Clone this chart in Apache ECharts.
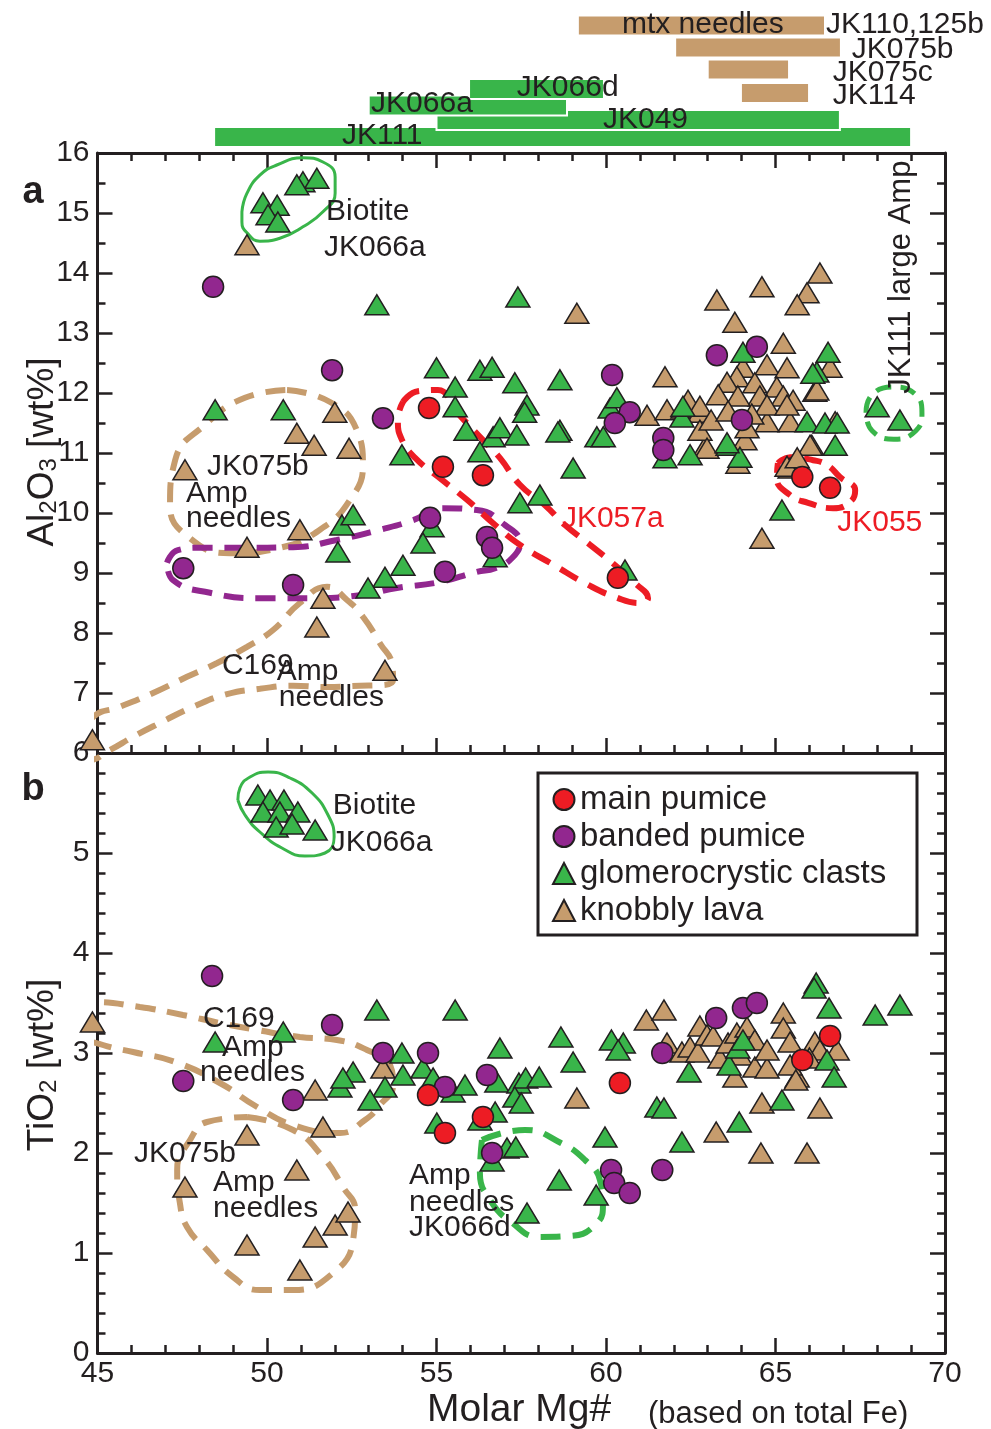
<!DOCTYPE html>
<html>
<head>
<meta charset="utf-8" />
<title>Al2O3 and TiO2 vs Molar Mg#</title>
<script src="https://cdn.jsdelivr.net/npm/echarts/dist/echarts.min.js"></script>
<style>
html, body { margin: 0; padding: 0; background: #fff; }
#main { width: 991px; height: 1429px; }
</style>
</head>
<body>
<div id="main"></div>
<script>
var FONT = '"Liberation Sans", Arial, Helvetica, sans-serif';
var INK = '#231f20';
var RED = '#ed1c24', PURPLE = '#92278f', GREEN = '#39b54a', TAN = '#c69c6d';

// ---- Mg# ranges of the samples (bars above the plot): [from, to, row]
var tanRanges = [[59.17, 66.46, 2.55], [62.04, 66.93, 4.75], [63.0, 65.4, 6.95], [63.98, 65.99, 9.3]];
var greenRanges = [[48.44, 69.0, 13.7], [55.0, 66.9, 12.0], [53.0, 58.85, 10.55], [55.96, 59.94, 8.9]];
var rangeLabels = [
  [60.47, 2.5, 'mtx needles'], [66.49, 2.5, 'JK110,125b'], [67.25, 4.95, 'JK075b'],
  [66.69, 7.3, 'JK075c'], [66.69, 9.6, 'JK114'], [57.37, 8.8, 'JK066d'],
  [53.07, 10.4, 'JK066a'], [59.91, 12.0, 'JK049'], [52.21, 13.6, 'JK111']
];

// ---- (a) Al2O3 wt% vs Mg#
var mainPumiceAl = [[54.78,11.75],[55.19,10.77],[56.37,10.63],[60.35,8.92],[65.79,10.6],[66.61,10.42]];
var bandedPumiceAl = [[48.41,13.77],[51.92,12.38],[53.42,11.58],[47.53,9.08],[50.77,8.8],[54.81,9.92],[55.25,9.02],
  [56.49,9.6],[56.64,9.42],[60.18,12.3],[60.7,11.68],[60.26,11.5],[61.69,11.25],[61.69,11.05],[63.27,12.63],
  [64.45,12.77],[64.01,11.55]];
var glomeroAl = [[49.88,15.17],[50.3,15.13],[50.03,14.97],[50.32,14.85],[51.06,15.52],[51.47,15.58],[50.88,15.47],
  [53.24,13.47],[57.4,13.6],[48.47,11.72],[50.48,11.72],[53.98,10.97],[55.0,12.42],[55.55,12.1],[56.28,12.38],
  [56.64,12.43],[55.55,11.77],[55.87,11.38],[56.67,11.27],[56.87,11.42],[57.31,12.17],[57.37,11.3],[57.67,11.8],
  [57.6,11.68],[56.28,11.02],[58.64,12.22],[58.64,11.38],[59.73,11.27],[60.12,11.75],[60.32,11.92],[59.03,10.75],
  [57.46,10.17],[58.05,10.3],[61.74,10.92],[62.48,10.97],[62.24,11.6],[62.27,11.78],[54.87,9.77],[54.6,9.5],
  [56.73,9.27],[54.01,9.13],[53.48,8.93],[52.98,8.75],[60.56,9.05],[52.21,9.8],[52.54,9.97],[52.09,9.35],
  [65.19,10.05],[66.76,11.13],[63.6,11.13],[63.95,10.93],[63.57,11.17],[64.04,12.68],[66.55,12.68],[66.22,12.35],
  [66.1,12.33],[65.93,11.52],[66.46,11.5],[66.82,11.5],[68.0,11.77],[68.67,11.55],[59.92,11.27],[58.58,11.35]];
var knobblyAl = [[49.41,14.47],[47.58,10.72],[52.0,11.68],[50.88,11.33],[51.39,11.13],[52.42,11.08],[50.97,9.72],
  [49.41,9.43],[51.65,8.58],[51.47,8.1],[53.48,7.38],[44.85,6.22],[59.14,13.33],[61.74,12.27],[61.21,11.63],
  [61.8,11.72],[62.27,11.75],[62.48,11.77],[62.77,11.68],[63.27,13.55],[64.6,13.77],[66.31,14.0],[65.93,13.67],
  [65.64,13.47],[63.8,13.18],[65.23,12.83],[64.04,12.43],[64.75,12.47],[65.34,12.42],[66.61,12.43],[63.86,12.27],
  [63.57,12.18],[64.39,12.17],[65.04,12.1],[64.54,11.95],[65.23,11.95],[65.52,11.88],[66.16,12.03],[66.22,12.05],
  [64.75,11.52],[65.43,11.52],[66.76,11.52],[62.92,11.1],[64.1,11.22],[66.07,11.13],[63.31,11.97],[63.89,11.95],
  [62.42,11.88],[62.77,11.78],[64.75,11.8],[65.34,11.8],[62.77,11.38],[64.16,11.42],[62.98,11.08],[63.89,10.83],
  [65.43,10.75],[65.64,10.88],[66.02,11.13],[64.6,9.58],[65.34,10.78],[65.64,10.92],[63.1,11.55],[63.6,11.7],
  [64.3,11.65]];

// ---- (b) TiO2 wt% vs Mg#
var mainPumiceTi = [[54.75,2.58],[55.25,2.2],[56.37,2.36],[60.41,2.7],[65.79,2.93],[66.61,3.17]];
var bandedPumiceTi = [[48.38,3.77],[47.53,2.72],[51.92,3.28],[50.77,2.53],[53.42,3.0],[54.75,3.0],[55.25,2.66],
  [56.49,2.78],[56.64,2.0],[60.15,1.83],[60.24,1.7],[60.7,1.6],[61.66,1.83],[61.66,3.0],[63.25,3.35],[64.04,3.45],
  [64.45,3.5]];
var glomeroTi = [[49.73,5.58],[50.09,5.53],[50.5,5.53],[49.88,5.41],[50.38,5.41],[50.91,5.41],[50.27,5.26],
  [50.74,5.29],[51.42,5.23],[48.47,3.11],[50.48,3.21],[52.15,2.66],[52.54,2.81],[52.24,2.75],[53.24,3.43],
  [53.98,3.0],[53.48,2.66],[53.04,2.53],[54.01,2.78],[54.6,2.85],[54.9,2.75],[55.55,3.43],[55.49,2.61],[55.84,2.68],
  [56.87,3.05],[55.01,2.3],[56.28,2.33],[56.78,2.71],[56.73,2.41],[56.64,1.92],[57.08,2.05],[57.43,2.7],
  [57.63,2.75],[58.03,2.76],[57.31,2.56],[57.5,2.5],[58.67,3.16],[59.03,2.91],[60.16,3.13],[60.51,3.1],
  [60.36,3.03],[57.34,2.06],[58.62,1.73],[59.71,1.58],[57.67,1.4],[59.97,2.16],[61.5,2.46],[61.71,2.45],
  [62.24,2.11],[63.93,2.31],[65.19,2.53],[67.94,3.38],[68.67,3.48],[66.2,3.7],[66.14,3.65],[66.58,3.45],
  [66.52,2.93],[66.73,2.76],[62.45,2.81],[63.63,2.88],[63.89,3.05],[64.04,3.13]];
var knobblyTi = [[44.85,3.31],[49.41,2.18],[47.58,1.66],[50.88,1.83],[51.65,2.26],[49.41,1.08],[50.97,0.83],
  [51.42,1.16],[52.01,1.28],[52.39,1.41],[51.42,2.63],[53.42,2.85],[59.14,2.55],[61.19,3.33],[61.71,3.43],
  [61.8,3.1],[62.24,3.01],[62.48,3.06],[62.71,3.01],[62.77,3.27],[62.98,3.18],[63.16,3.17],[63.36,2.95],
  [63.6,3.1],[63.86,3.2],[63.95,2.98],[64.16,3.26],[64.39,3.13],[63.8,2.76],[64.39,2.86],[64.75,2.85],
  [64.75,3.03],[65.23,3.4],[65.23,3.25],[65.43,3.11],[65.64,2.76],[65.43,2.88],[66.16,3.11],[66.31,3.03],
  [66.82,3.03],[63.25,2.21],[64.57,2.0],[65.93,2.0],[64.6,2.5],[66.31,2.45],[65.6,2.73],[66.0,2.95]];

// ---- outlines drawn round groups of points (Mg#, wt%)
var biotiteRingAl = [[49.26,15.02],[49.41,15.33],[49.79,15.63],[50.29,15.8],[51.06,15.92],[51.65,15.85],[52.01,15.6],
  [52.01,15.33],[51.65,15.02],[51.06,14.77],[50.38,14.58],[49.79,14.53],[49.41,14.67],[49.26,14.85]];
var jk075bLoopAl = [[50.59,12.05],[51.86,11.85],[52.65,11.38],[52.83,10.8],[52.45,10.22],[51.56,9.72],[50.38,9.42],
  [48.91,9.33],[47.73,9.58],[47.14,10.13],[47.29,10.88],[48.17,11.47],[49.35,11.92]];
var c169LoopAl = [[44.34,6.13],[44.87,6.6],[45.66,6.77],[46.64,7.0],[47.64,7.27],[48.53,7.5],[49.41,7.77],[50.18,8.05],
  [50.97,8.5],[51.77,8.77],[52.36,8.55],[52.83,8.27],[53.33,7.83],[53.69,7.47],[53.72,7.22],[53.33,7.13],[52.74,7.12],
  [51.77,7.1],[50.77,7.12],[49.79,7.07],[48.82,6.98],[47.82,6.77],[46.84,6.5],[46.05,6.27],[45.37,6.05],[44.72,5.88],
  [44.31,5.95]];
var bandedLoopAl = [[47.05,9.17],[47.37,9.38],[48.02,9.42],[49.41,9.42],[50.77,9.43],[52.06,9.55],[53.33,9.72],
  [54.31,9.88],[55.19,10.08],[56.19,10.05],[57.02,9.8],[57.46,9.5],[57.23,9.25],[56.73,9.08],[56.19,9.02],
  [55.1,8.85],[53.83,8.75],[52.74,8.63],[51.36,8.58],[49.79,8.58],[48.32,8.67],[47.23,8.88]];
var jk057aLoopAl = [[54.01,11.85],[54.45,12.03],[55.04,12.05],[55.6,11.68],[56.28,11.27],[56.87,10.92],[57.46,10.47],
  [58.2,10.13],[58.79,9.8],[59.53,9.47],[60.27,9.13],[60.86,8.83],[61.24,8.58],[61.0,8.5],[60.27,8.6],[59.38,8.83],
  [58.5,9.12],[57.46,9.47],[56.73,9.8],[55.9,10.22],[55.1,10.58],[54.37,10.92],[53.98,11.22],[53.86,11.55]];
var jk055LoopAl = [[65.07,10.83],[65.43,10.93],[66.11,10.88],[66.52,10.8],[66.9,10.6],[67.35,10.38],[67.26,10.22],
  [66.7,10.08],[65.96,10.17],[65.43,10.3],[65.04,10.58]];
var jk111LoopAl = [[67.67,11.67],[67.85,11.97],[68.49,12.1],[69.14,11.97],[69.32,11.67],[69.14,11.37],[68.49,11.23],
  [67.85,11.37]];
var biotiteRingTi = [[49.14,5.53],[49.2,5.65],[49.5,5.76],[50.03,5.81],[50.68,5.75],[51.33,5.6],[51.8,5.38],
  [51.98,5.16],[51.71,5.0],[51.12,4.97],[50.44,5.05],[49.79,5.21],[49.35,5.38]];
var c169LoopTi = [[44.48,3.36],[44.87,3.51],[46.25,3.46],[47.52,3.38],[48.61,3.3],[49.71,3.23],[50.97,3.16],
  [52.06,3.13],[52.95,3.03],[53.63,2.88],[53.72,2.68],[53.33,2.48],[52.89,2.33],[52.15,2.2],[50.77,2.28],
  [49.71,2.46],[48.61,2.7],[47.29,2.91],[46.05,3.01],[45.16,3.08],[44.48,3.18],[44.4,3.28]];
var jk075bLoopTi = [[49.41,2.36],[50.77,2.23],[51.65,1.96],[52.24,1.66],[52.6,1.43],[52.54,1.13],[51.95,0.8],
  [50.77,0.63],[49.79,0.63],[49.0,0.76],[48.23,1.03],[47.64,1.26],[47.43,1.5],[47.35,1.83],[47.73,2.13],[48.23,2.31]];
var jk066dLoopTi = [[56.34,2.13],[57.61,2.23],[58.67,2.1],[59.38,1.93],[59.82,1.73],[59.91,1.48],[59.68,1.28],
  [58.94,1.17],[58.05,1.16],[57.2,1.31],[56.58,1.53],[56.28,1.8]];

// ---- labels placed at (Mg#, wt%)
var blackLabelsAl = [[51.74,15.02,'Biotite'],[51.68,14.42,'JK066a'],[48.23,10.77,'JK075b'],[47.61,10.32,'Amp'],
  [47.61,9.9,'needles'],[48.67,7.45,'C169'],[50.29,7.35,'Amp'],[50.35,6.92,'needles']];
var redLabelsAl = [[58.7,9.9,'JK057a'],[66.82,9.83,'JK055']];
var sideLabelAl = [[68.73,13.93,'JK111 large Amp']];
var blackLabelsTi = [[51.94,5.47,'Biotite'],[51.88,5.1,'JK066a'],[48.11,3.34,'C169'],[48.67,3.05,'Amp'],
  [48.02,2.8,'needles'],[46.08,1.99,'JK075b'],[48.41,1.7,'Amp'],[48.41,1.44,'needles'],[54.19,1.77,'Amp'],
  [54.19,1.5,'needles'],[54.19,1.25,'JK066d']];

function closeLoop(pts) { return pts.concat([pts[0]]); }

function loopSeries(pts, color, width, dash, ax) {
  return {
    type: 'line', xAxisIndex: ax, yAxisIndex: ax, data: closeLoop(pts), smooth: 0.5,
    symbol: 'none', clip: false, silent: true, z: 2,
    lineStyle: { color: color, width: width, type: dash, cap: 'butt' }
  };
}

function pointSeries(name, pts, symbol, color, ax, z) {
  return {
    type: 'scatter', name: name, xAxisIndex: ax, yAxisIndex: ax, data: pts, symbol: symbol,
    symbolSize: symbol === 'circle' ? 21 : [24, 20], clip: false, z: z,
    itemStyle: { color: color, borderColor: INK, borderWidth: 1.5, opacity: 1 }
  };
}

function textSeries(items, ax, color, size, rotation) {
  return {
    type: 'custom', xAxisIndex: ax, yAxisIndex: ax, silent: true, z: 6,
    data: items.map(function (d) { return [d[0], d[1]]; }),
    renderItem: function (params, api) {
      var p = api.coord([api.value(0), api.value(1)]);
      return {
        type: 'text', x: p[0], y: p[1], rotation: rotation || 0,
        style: {
          text: items[params.dataIndex][2], fill: color, fontSize: size, fontFamily: FONT,
          align: rotation ? 'center' : 'left', verticalAlign: 'middle'
        }
      };
    }
  };
}

function rangeSeries(ranges, color) {
  return {
    type: 'custom', xAxisIndex: 0, yAxisIndex: 0, silent: true, z: 2, data: ranges,
    renderItem: function (params, api) {
      var a = api.coord([api.value(0), api.value(2)]);
      var b = api.coord([api.value(1), api.value(2)]);
      var h = api.size([0, 2.0])[1];
      return {
        type: 'rect', shape: { x: a[0], y: a[1] - h / 2, width: b[0] - a[0], height: h },
        style: { fill: color, stroke: '#fff', lineWidth: 2 }
      };
    }
  };
}

function xFrame(grid, pos, labels) {
  return {
    type: 'value', gridIndex: grid, position: pos, min: 45, max: 70, interval: 5,
    axisLine: { show: true, onZero: false, lineStyle: { color: INK, width: 3 } },
    axisTick: { show: true, inside: true, length: 15, lineStyle: { color: INK, width: 2.5 } },
    minorTick: { show: true, splitNumber: 5, length: 8, lineStyle: { color: INK, width: 2.5 } },
    axisLabel: { show: labels, color: INK, fontSize: 30, fontFamily: FONT, margin: 6 },
    splitLine: { show: false }, minorSplitLine: { show: false }
  };
}

function yFrame(grid, pos, min, max, minor, labels) {
  return {
    type: 'value', gridIndex: grid, position: pos, min: min, max: max, interval: 1,
    axisLine: { show: true, onZero: false, lineStyle: { color: INK, width: 3 } },
    axisTick: { show: true, inside: true, length: 15, lineStyle: { color: INK, width: 2.5 } },
    minorTick: { show: true, splitNumber: minor, length: 8, lineStyle: { color: INK, width: 2.5 } },
    axisLabel: {
      show: labels, color: INK, fontSize: 30, fontFamily: FONT, margin: 8,
      formatter: function (v) { return (min === 0 && v === 6) ? '' : String(v); }
    },
    splitLine: { show: false }, minorSplitLine: { show: false }
  };
}

var titleRich = {
  a: { fontSize: 37, fontFamily: FONT, fill: INK, lineHeight: 46, verticalAlign: 'bottom' },
  s: { fontSize: 24, fontFamily: FONT, fill: INK, padding: [26, 0, 0, 0], verticalAlign: 'bottom' }
};

var myChart = echarts.init(document.getElementById('main'), null, { renderer: 'canvas' });

var option = {
  animation: false,
  backgroundColor: '#fff',
  grid: [
    { left: 97.5, right: 46, top: 0, height: 153, outerBoundsMode: 'none' },
    { left: 97.5, right: 46, top: 153, height: 600, outerBoundsMode: 'none' },
    { left: 97.5, right: 46, top: 753, height: 600, outerBoundsMode: 'none' }
  ],
  xAxis: [
    { type: 'value', gridIndex: 0, min: 45, max: 70, show: false },
    xFrame(1, 'bottom', false),
    xFrame(1, 'top', false),
    xFrame(2, 'bottom', true)
  ],
  yAxis: [
    { type: 'value', gridIndex: 0, min: 0, max: 15.3, inverse: true, show: false },
    yFrame(1, 'left', 6, 16, 2, true),
    yFrame(2, 'left', 0, 6, 5, true),
    yFrame(1, 'right', 6, 16, 2, false),
    yFrame(2, 'right', 0, 6, 5, false)
  ],
  legend: {
    data: ['main pumice', 'banded pumice', 'glomerocrystic clasts', 'knobbly lava'],
    orient: 'vertical', left: 538, top: 773, selectedMode: false,
    padding: [10, 8, 8, 14], itemGap: 4, itemWidth: 22, itemHeight: 21,
    borderColor: INK, borderWidth: 3, backgroundColor: '#fff',
    textStyle: { color: INK, fontSize: 33, fontFamily: FONT, width: 329, lineHeight: 30 }
  },
  graphic: [
    { type: 'text', x: 33, y: 193, style: { text: 'a', fill: INK, fontSize: 38, fontWeight: 'bold', fontFamily: FONT, align: 'center', verticalAlign: 'middle' } },
    { type: 'text', x: 33, y: 790, style: { text: 'b', fill: INK, fontSize: 38, fontWeight: 'bold', fontFamily: FONT, align: 'center', verticalAlign: 'middle' } },
    { type: 'text', x: 36, y: 452, rotation: Math.PI / 2, style: {
        text: '{a|Al}{s|2}{a|O}{s|3}{a| [wt%]}', align: 'center', verticalAlign: 'middle', rich: titleRich } },
    { type: 'text', x: 36, y: 1065, rotation: Math.PI / 2, style: {
        text: '{a|TiO}{s|2}{a| [wt%]}', align: 'center', verticalAlign: 'middle', rich: titleRich } },
    { type: 'text', x: 427, y: 1410, style: { text: 'Molar Mg#', fill: INK, fontSize: 39, fontFamily: FONT, align: 'left', verticalAlign: 'middle' } },
    { type: 'text', x: 648, y: 1414, style: { text: '(based on total Fe)', fill: INK, fontSize: 31, fontFamily: FONT, align: 'left', verticalAlign: 'middle' } }
  ],
  series: [
    rangeSeries(greenRanges, GREEN),
    rangeSeries(tanRanges, TAN),
    textSeries(rangeLabels, 0, INK, 30),

    loopSeries(jk075bLoopAl, TAN, 6, [20, 12], 1),
    loopSeries(c169LoopAl, TAN, 6, [20, 12], 1),
    loopSeries(bandedLoopAl, PURPLE, 6, [20, 12], 1),
    loopSeries(jk057aLoopAl, RED, 6, [20, 12], 1),
    loopSeries(jk055LoopAl, RED, 6, [18, 10], 1),
    loopSeries(jk111LoopAl, GREEN, 5, [16, 9], 1),
    loopSeries(biotiteRingAl, GREEN, 3, 'solid', 1),
    pointSeries('knobbly lava', knobblyAl, 'triangle', TAN, 1, 3),
    pointSeries('glomerocrystic clasts', glomeroAl, 'triangle', GREEN, 1, 4),
    pointSeries('banded pumice', bandedPumiceAl, 'circle', PURPLE, 1, 5),
    pointSeries('main pumice', mainPumiceAl, 'circle', RED, 1, 5),
    textSeries(blackLabelsAl, 1, INK, 30),
    textSeries(redLabelsAl, 1, RED, 30),
    textSeries(sideLabelAl, 1, INK, 31, Math.PI / 2),

    loopSeries(biotiteRingTi, GREEN, 3, 'solid', 2),
    loopSeries(c169LoopTi, TAN, 6, [20, 12], 2),
    loopSeries(jk075bLoopTi, TAN, 6, [20, 12], 2),
    loopSeries(jk066dLoopTi, GREEN, 6, [20, 12], 2),
    pointSeries('knobbly lava', knobblyTi, 'triangle', TAN, 2, 3),
    pointSeries('glomerocrystic clasts', glomeroTi, 'triangle', GREEN, 2, 4),
    pointSeries('banded pumice', bandedPumiceTi, 'circle', PURPLE, 2, 5),
    pointSeries('main pumice', mainPumiceTi, 'circle', RED, 2, 5),
    textSeries(blackLabelsTi, 2, INK, 30)
  ]
};

// the lower panel uses x axis 3 with y axis 2
option.series.forEach(function (s) {
  if (s.xAxisIndex === 2) { s.xAxisIndex = 3; }
});

myChart.setOption(option);
</script>
</body>
</html>
